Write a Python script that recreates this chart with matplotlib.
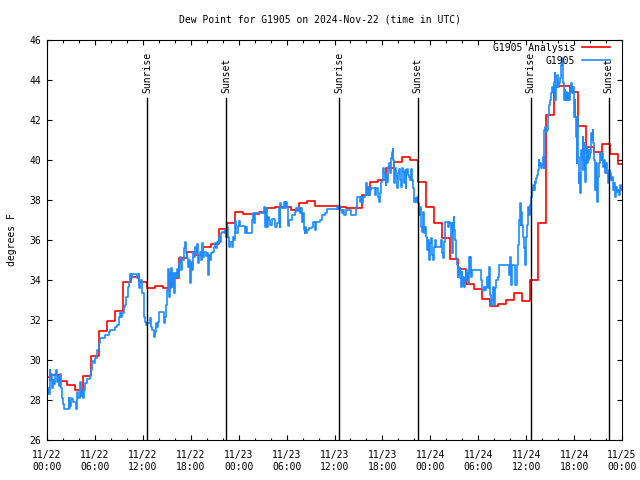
import matplotlib
matplotlib.use("Agg")
import matplotlib.pyplot as plt
from matplotlib.ticker import MultipleLocator

plt.rcParams['font.family'] = 'DejaVu Sans Mono'
plt.rcParams['font.size'] = 7

# hour 0 = 2024-11-22 00:00 UTC
# hourly analysis values (drawn as steps centred on each hour)
analysis_hours = list(range(73))
analysis_dewpt = [
    29.13, 29.23, 28.93, 28.73, 28.48, 29.18, 30.20, 31.47, 31.93, 32.43,
    33.88, 34.13, 33.88, 33.58, 33.68, 33.58, 34.08, 35.08, 35.38, 35.25,
    35.63, 35.80, 36.53, 36.83, 37.38, 37.28, 37.32, 37.38, 37.58, 37.65,
    37.65, 37.48, 37.85, 37.95, 37.72, 37.72, 37.72, 37.67, 37.62, 37.58,
    38.25, 38.88, 38.98, 39.58, 39.88, 40.15, 39.98, 38.92, 37.67, 36.83,
    36.08, 35.05, 34.55, 33.78, 33.55, 33.03, 32.72, 32.78, 32.98, 33.33,
    32.97, 33.98, 36.83, 42.25, 43.70, 43.70, 43.40, 41.70, 40.67, 40.42,
    40.78, 40.28, 39.78,
]

# station observations
obs_hours = [
    0.0, 0.1, 0.2, 0.33, 0.4, 0.5, 0.6, 0.75, 0.9, 1.04, 1.12, 1.2, 1.35, 1.5,
    1.67, 1.8, 1.9, 2.0, 2.08, 2.63, 2.7, 2.75, 2.85, 2.92, 3.0, 3.13, 3.3, 3.5,
    3.6, 3.75, 3.9, 4.09, 4.2, 4.35, 4.45, 4.6, 4.71, 5.0, 5.34, 5.5, 5.63, 5.84,
    6.05, 6.26, 6.47, 6.67, 7.18, 7.3, 7.8, 7.93, 8.34, 8.55, 8.76, 8.97, 9.09,
    9.26, 9.39, 9.6, 9.8, 9.93, 10.1, 10.22, 10.35, 10.43, 10.56, 10.65, 11.27,
    11.47, 11.56, 11.68, 11.89, 12.1, 12.18, 12.31, 12.44, 12.52, 12.94, 13.06,
    13.19, 13.35, 13.48, 13.65, 13.77, 13.9, 14.02, 14.6, 14.73, 14.86, 15.02,
    15.11, 15.23, 15.36, 15.44, 15.56, 15.69, 15.77, 15.86, 15.98, 16.11, 16.27,
    16.4, 16.52, 16.69, 16.82, 16.94, 17.11, 17.23, 17.36, 17.53, 17.65, 17.78,
    17.9, 18.03, 18.15, 18.28, 18.4, 18.53, 18.65, 18.78, 18.91, 19.03, 19.2,
    19.32, 19.45, 19.57, 19.7, 19.87, 20.03, 20.16, 20.24, 20.37, 20.53, 20.7,
    20.87, 20.99, 21.12, 21.24, 21.37, 21.53, 21.7, 21.83, 21.95, 22.12, 22.24,
    22.37, 22.49, 22.62, 22.74, 22.95, 23.16, 23.29, 23.45, 23.58, 23.7, 23.87,
    23.99, 24.2, 24.75, 24.96, 25.04, 25.66, 25.75, 25.87, 26.0, 26.58, 27.13,
    27.21, 27.34, 27.46, 27.55, 27.67, 27.8, 27.96, 28.17, 28.59, 28.8, 29.01,
    29.13, 29.21, 29.34, 29.46, 29.63, 29.76, 29.88, 30.05, 30.18, 30.3, 30.68,
    31.1, 31.22, 31.39, 31.51, 31.72, 31.85, 31.97, 32.05, 32.14, 32.26, 32.35,
    32.47, 32.55, 32.76, 33.18, 33.3, 33.6, 33.72, 34.22, 34.43, 34.85, 35.06,
    36.31, 36.44, 36.52, 36.73, 36.94, 37.06, 37.23, 37.4, 37.98, 38.1, 38.69,
    38.81, 39.15, 39.31, 39.44, 39.52, 39.86, 39.94, 40.07, 40.15, 40.27, 40.4,
    40.57, 41.03, 41.19, 41.4, 41.53, 41.65, 41.82, 41.95, 42.07, 42.2, 42.28,
    42.41, 42.49, 42.61, 42.74, 42.86, 42.99, 43.12, 43.2, 43.28, 43.32, 43.41,
    43.49, 43.61, 43.7, 43.82, 43.91, 44.03, 44.16, 44.28, 44.45, 44.57, 44.66,
    44.78, 44.91, 44.99, 45.07, 45.2, 45.32, 45.45, 45.57, 45.7, 45.83, 45.91,
    45.99, 46.12, 46.24, 46.37, 46.49, 46.58, 46.66, 46.74, 46.87, 47.0, 47.12,
    47.21, 47.33, 47.46, 47.54, 47.67, 47.79, 47.87, 48.0, 48.08, 48.21, 48.33,
    48.41, 48.54, 48.66, 49.25, 49.37, 49.45, 49.58, 49.66, 49.8, 50.08, 50.17,
    50.29, 50.42, 50.58, 50.67, 50.75, 50.83, 50.92, 51.0, 51.09, 51.17, 51.25,
    51.34, 51.42, 51.5, 51.58, 51.67, 51.75, 51.84, 51.92, 52.0, 52.09, 52.17,
    52.25, 52.38, 52.5, 52.59, 52.67, 52.75, 52.84, 52.92, 53.0, 53.09, 53.21,
    54.34, 54.47, 54.72, 54.84, 54.97, 55.09, 55.18, 55.3, 55.43, 55.51, 55.6,
    55.72, 55.85, 55.93, 56.05, 56.14, 56.26, 56.47, 56.55, 57.89, 58.01, 58.1,
    58.22, 58.56, 58.85, 58.93, 59.06, 59.14, 59.23, 59.31, 59.39, 59.48, 59.56,
    59.64, 59.73, 59.81, 59.89, 60.02, 60.1, 60.18, 60.31, 60.44, 60.64, 60.73,
    60.85, 60.98, 61.06, 61.14, 61.27, 61.35, 61.44, 61.56, 61.64, 61.77, 61.9,
    61.98, 62.1, 62.19, 62.27, 62.4, 62.48, 62.61, 62.69, 62.9, 63.02, 63.11,
    63.23, 63.32, 63.44, 63.57, 63.65, 63.73, 63.86, 63.94, 64.07, 64.19, 64.32,
    64.4, 64.48, 64.57, 64.69, 64.82, 64.9, 65.03, 65.15, 65.28, 65.41, 65.53,
    65.66, 65.78, 65.91, 65.99, 66.07, 66.15, 66.24, 66.32, 66.4, 66.49, 66.57,
    66.65, 66.74, 66.82, 66.9, 66.99, 67.07, 67.15, 67.24, 67.32, 67.41, 67.49,
    67.57, 67.66, 67.74, 67.82, 67.91, 67.99, 68.07, 68.16, 68.24, 68.32, 68.41,
    68.49, 68.57, 68.66, 68.74, 68.82, 68.91, 68.99, 69.07, 69.16, 69.28, 69.41,
    69.53, 69.66, 69.78, 69.91, 70.03, 70.16, 70.28, 70.41, 70.53, 70.66, 70.74,
    70.82, 70.95, 71.07, 71.16, 71.28, 71.41, 71.53, 71.66, 71.74, 71.87, 71.99,
]
obs_dewpt = [
    28.3, 28.6, 28.3, 29.5, 29.0, 29.3, 28.6, 29.0, 28.8, 29.3, 29.5, 28.9, 29.2, 28.7,
    29.3, 28.6, 28.1, 27.8, 27.55, 27.55, 28.1, 27.6, 27.9, 27.7, 28.1, 28.05, 27.9, 27.9,
    27.55, 28.4, 28.1, 28.9, 28.2, 28.5, 28.1, 28.5, 28.83, 29.05, 29.25, 29.5, 29.95, 29.85,
    30.08, 30.5, 30.83, 31.12, 31.1, 31.25, 31.4, 31.5, 31.5, 31.67, 31.75, 32.17, 32.42,
    32.17, 32.33, 32.67, 32.75, 33.17, 33.67, 33.92, 34.22, 34.28, 34.08, 34.28, 34.08,
    34.28, 33.6, 34.0, 33.33, 33.0, 32.17, 31.92, 31.75, 31.83, 32.08, 31.67,
    31.5, 31.17, 31.42, 31.83, 31.67, 31.92, 32.42, 31.83, 32.17, 32.75, 33.5,
    34.55, 33.17, 34.37, 34.0, 34.58, 33.67, 34.33, 33.33, 34.33, 34.17, 34.55,
    34.17, 34.87, 35.17, 34.5, 35.0, 35.58, 35.92, 35.33, 35.08, 34.67, 35.0,
    33.83, 34.92, 34.5, 35.42, 35.17, 35.67, 35.33, 35.78, 34.83, 35.25, 35.42,
    35.0, 35.87, 35.17, 35.42, 35.2, 35.33, 34.25, 35.25, 35.0, 35.33, 35.42,
    35.67, 35.83, 35.58, 35.92, 35.83, 36.17, 35.92, 36.33, 36.42, 36.33, 36.5,
    36.17, 36.67, 36.17, 35.67, 35.92, 35.67, 36.17, 36.0, 36.97, 36.33, 36.7,
    36.97, 36.7, 36.33, 36.67, 36.33, 37.0, 37.33, 36.83, 37.33, 37.37, 37.42,
    37.63, 36.67, 37.58, 36.67, 37.17, 37.0, 36.75, 37.03, 36.67, 36.83, 37.58,
    36.67, 37.87, 37.67, 37.58, 37.92, 37.58, 37.92, 37.67, 36.7, 37.0, 37.25,
    37.42, 37.58, 37.47, 37.58, 37.33, 37.58, 36.92, 37.33, 36.5, 36.33, 36.67,
    36.33, 36.5, 36.58, 36.67, 36.92, 36.5, 36.92, 37.0, 37.25, 37.33, 37.53,
    37.67, 37.53, 37.7, 37.5, 37.33, 37.5, 37.25, 37.5, 37.5, 37.25, 37.67,
    38.17, 37.92, 38.17, 37.83, 38.17, 38.25, 38.83, 38.25, 38.67, 38.25, 38.5,
    38.58, 38.25, 38.58, 38.17, 37.92, 38.33, 38.92, 39.0, 39.58, 39.33, 39.0,
    38.75, 39.25, 38.92, 39.67, 39.87, 39.33, 40.08, 40.42, 40.53, 40.0, 39.67,
    38.83, 39.58, 39.2, 38.58, 39.33, 39.53, 39.0, 38.67, 39.58, 39.42, 38.83,
    39.5, 38.58, 39.33, 39.53, 39.25, 39.17, 39.0, 39.53, 39.0, 38.58, 38.25,
    37.92, 38.08, 37.92, 38.17, 37.83, 37.5, 37.25, 37.67, 36.67, 36.42, 37.42,
    36.33, 36.67, 36.17, 35.5, 36.0, 35.33, 35.0, 35.83, 36.08, 35.25, 35.0,
    35.67, 36.0, 35.67, 35.67, 36.0, 35.33, 35.08, 35.92, 36.9, 36.92, 36.67,
    36.92, 36.83, 36.17, 36.83, 35.33, 36.67, 37.17, 36.5, 36.0, 35.5, 35.08,
    34.75, 34.17, 34.67, 34.33, 34.58, 34.08, 33.67, 34.42, 33.75, 34.17, 34.0,
    33.67, 34.08, 34.5, 34.0, 34.33, 33.83, 35.17, 34.33, 35.17, 34.17, 34.5,
    34.0, 33.5, 33.67, 33.5, 33.67, 34.17, 33.58, 34.67, 33.67, 33.25, 32.75,
    33.0, 33.67, 32.75, 33.17, 33.58, 34.0, 34.17, 34.75, 34.25, 35.17, 33.75,
    34.75, 33.75, 34.75, 35.75, 36.67, 37.0, 37.83, 36.75, 37.42, 36.75, 36.33,
    36.17, 35.58, 34.75, 34.75, 36.17, 36.75, 37.67, 37.25, 37.75, 38.17, 38.5,
    38.75, 38.5, 38.92, 38.83, 39.08, 39.25, 39.5, 40.0, 39.75, 39.83, 39.58,
    39.75, 40.17, 39.58, 41.5, 41.67, 41.42, 41.5, 42.25, 42.75, 43.0, 43.33,
    43.67, 43.42, 43.92, 44.33, 43.0, 43.67, 44.25, 43.67, 43.83, 44.08, 44.33,
    44.75, 45.08, 43.83, 43.0, 43.5, 43.0, 43.42, 43.0, 43.33, 43.0, 43.42,
    43.83, 43.33, 43.67, 42.17, 43.0, 42.17, 41.17, 39.83, 42.17, 40.17, 38.83,
    39.33, 38.33, 39.17, 40.5, 40.0, 41.17, 39.5, 40.33, 40.83, 38.92, 40.0,
    40.67, 39.83, 40.0, 40.5, 40.08, 40.33, 40.67, 41.33, 41.0, 41.5, 40.83,
    40.0, 38.92, 38.5, 39.83, 38.17, 37.92, 39.17, 39.67, 39.83, 40.33, 40.0,
    40.33, 39.67, 40.0, 39.33, 39.83, 39.33, 38.83, 39.5, 39.33, 39.0, 39.17,
    38.5, 38.83, 38.42, 38.17, 38.67, 38.42, 38.5, 38.25, 38.75, 38.5, 38.67,
]

sunrise_hours = [12.53, 36.55, 60.57]
sunset_hours = [22.42, 46.40, 70.35]

tick_hours = list(range(0, 73, 6))
tick_labels = [
    '11/22\n00:00', '11/22\n06:00', '11/22\n12:00', '11/22\n18:00',
    '11/23\n00:00', '11/23\n06:00', '11/23\n12:00', '11/23\n18:00',
    '11/24\n00:00', '11/24\n06:00', '11/24\n12:00', '11/24\n18:00',
    '11/25\n00:00',
]

fig = plt.figure(figsize=(6.4, 4.8), dpi=100)
ax = fig.add_axes([47 / 640, 40 / 480, 575 / 640, 400 / 480])

ax.plot(analysis_hours, analysis_dewpt, drawstyle='steps-mid', color='red',
        lw=1.2, label='G1905 Analysis')
ax.plot(obs_hours, obs_dewpt, drawstyle='steps-post', color='#1e8cff',
        lw=1.2, label='G1905')

# sunrise / sunset markers
for h in sunrise_hours:
    ax.axvline(h, ymax=0.855, color='black', lw=1)
    ax.text(h, 43.35, 'Sunrise', rotation=90, ha='center', va='bottom')
for h in sunset_hours:
    ax.axvline(h, ymax=0.855, color='black', lw=1)
    ax.text(h, 43.35, 'Sunset', rotation=90, ha='center', va='bottom')

ax.set_xlim(0, 72)
ax.set_ylim(26, 46)
ax.set_xticks(tick_hours)
ax.set_xticklabels(tick_labels, linespacing=1.25)
ax.xaxis.set_minor_locator(MultipleLocator(2))
ax.yaxis.set_major_locator(MultipleLocator(2))
ax.tick_params(which='both', direction='in', top=True, right=True, width=0.8)
ax.tick_params(which='major', length=3.3)
ax.tick_params(which='minor', length=1.8)
ax.tick_params(axis='x', pad=7.5)
ax.tick_params(axis='y', pad=4)
for s in ax.spines.values():
    s.set_linewidth(0.8)

ax.legend(loc='upper right', bbox_to_anchor=(0.979, 0.993), frameon=False,
          markerfirst=False, handlelength=2.9, handletextpad=0.7,
          borderpad=0, borderaxespad=0, labelspacing=0.3)

fig.text(0.5, 1 - 20 / 480, 'Dew Point for G1905 on 2024-Nov-22 (time in UTC)',
         ha='center', va='center')
fig.text(12 / 640, 0.5, 'degrees F', rotation=90, ha='center', va='center')

fig.savefig('out.png', dpi=100)
